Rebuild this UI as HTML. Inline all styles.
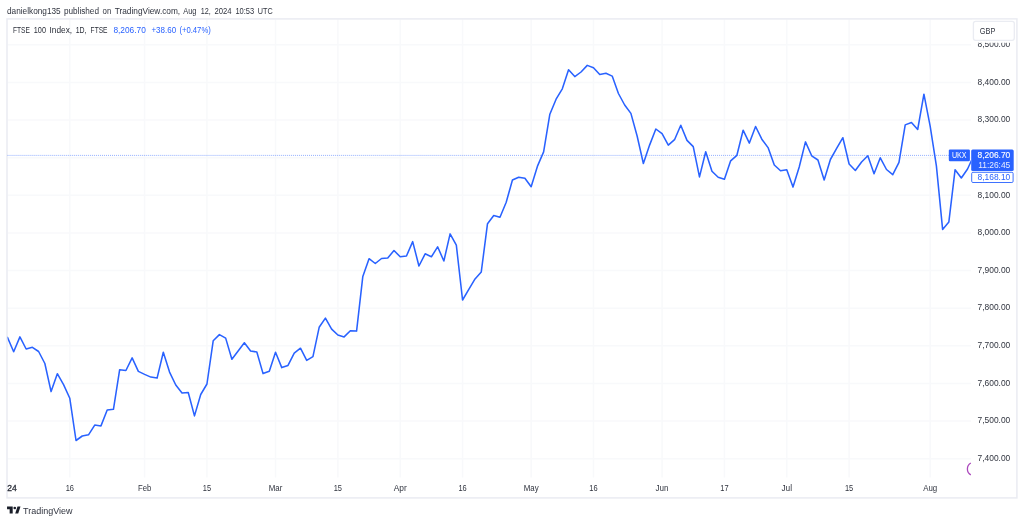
<!DOCTYPE html>
<html><head><meta charset="utf-8"><title>FTSE 100 Index</title>
<style>
html,body{margin:0;padding:0;background:#fff;}
body{width:1024px;height:523px;overflow:hidden;font-family:"Liberation Sans",sans-serif;}
svg{display:block;will-change:transform;}
text{font-family:"Liberation Sans",sans-serif;}
</style></head><body>
<svg width="1024" height="523" viewBox="0 0 1024 523">
<rect x="0" y="0" width="1024" height="523" fill="#ffffff"/>
<text x="7.00" y="13.6" font-size="8.4" fill="#30343f" textLength="53.70" lengthAdjust="spacingAndGlyphs">danielkong135</text>
<text x="63.90" y="13.6" font-size="8.4" fill="#30343f" textLength="35.10" lengthAdjust="spacingAndGlyphs">published</text>
<text x="102.60" y="13.6" font-size="8.4" fill="#30343f" textLength="8.70" lengthAdjust="spacingAndGlyphs">on</text>
<text x="114.70" y="13.6" font-size="8.4" fill="#30343f" textLength="65.50" lengthAdjust="spacingAndGlyphs">TradingView.com,</text>
<text x="183.20" y="13.6" font-size="8.4" fill="#30343f" textLength="13.20" lengthAdjust="spacingAndGlyphs">Aug</text>
<text x="200.70" y="13.6" font-size="8.4" fill="#30343f" textLength="10.10" lengthAdjust="spacingAndGlyphs">12,</text>
<text x="214.50" y="13.6" font-size="8.4" fill="#30343f" textLength="17.10" lengthAdjust="spacingAndGlyphs">2024</text>
<text x="235.40" y="13.6" font-size="8.4" fill="#30343f" textLength="18.80" lengthAdjust="spacingAndGlyphs">10:53</text>
<text x="257.80" y="13.6" font-size="8.4" fill="#30343f" textLength="14.90" lengthAdjust="spacingAndGlyphs">UTC</text>
<g stroke="#f8f9fb" stroke-width="1.5">
<line x1="7.5" y1="458.70" x2="971" y2="458.70"/>
<line x1="7.5" y1="421.07" x2="971" y2="421.07"/>
<line x1="7.5" y1="383.44" x2="971" y2="383.44"/>
<line x1="7.5" y1="345.81" x2="971" y2="345.81"/>
<line x1="7.5" y1="308.18" x2="971" y2="308.18"/>
<line x1="7.5" y1="270.55" x2="971" y2="270.55"/>
<line x1="7.5" y1="232.92" x2="971" y2="232.92"/>
<line x1="7.5" y1="195.29" x2="971" y2="195.29"/>
<line x1="7.5" y1="157.66" x2="971" y2="157.66"/>
<line x1="7.5" y1="120.03" x2="971" y2="120.03"/>
<line x1="7.5" y1="82.40" x2="971" y2="82.40"/>
<line x1="7.5" y1="44.77" x2="971" y2="44.77"/>
<line x1="69.80" y1="19.5" x2="69.80" y2="477.5"/>
<line x1="144.61" y1="19.5" x2="144.61" y2="477.5"/>
<line x1="206.95" y1="19.5" x2="206.95" y2="477.5"/>
<line x1="275.53" y1="19.5" x2="275.53" y2="477.5"/>
<line x1="337.88" y1="19.5" x2="337.88" y2="477.5"/>
<line x1="400.22" y1="19.5" x2="400.22" y2="477.5"/>
<line x1="462.57" y1="19.5" x2="462.57" y2="477.5"/>
<line x1="531.15" y1="19.5" x2="531.15" y2="477.5"/>
<line x1="593.49" y1="19.5" x2="593.49" y2="477.5"/>
<line x1="662.07" y1="19.5" x2="662.07" y2="477.5"/>
<line x1="724.42" y1="19.5" x2="724.42" y2="477.5"/>
<line x1="786.76" y1="19.5" x2="786.76" y2="477.5"/>
<line x1="849.11" y1="19.5" x2="849.11" y2="477.5"/>
<line x1="930.16" y1="19.5" x2="930.16" y2="477.5"/>
</g>
<rect x="7" y="18.9" width="1009.9" height="479" fill="none" stroke="#eaecf2" stroke-width="1.5"/>
<line x1="7.5" y1="155.4" x2="949" y2="155.4" stroke="#2962ff" stroke-width="1" stroke-dasharray="1 1.01" opacity="0.5"/>
<defs><clipPath id="pane"><rect x="7.5" y="19.5" width="963.5" height="458"/></clipPath></defs>
<polyline clip-path="url(#pane)" points="7.45,337.4 13.68,351.8 19.92,336.9 26.15,349.0 32.39,347.3 38.62,351.5 44.86,363.5 51.09,391.6 57.33,373.7 63.56,384.6 69.80,398.3 76.03,440.5 82.26,436.0 88.50,434.8 94.73,425.1 100.97,425.9 107.20,410.0 113.44,409.3 119.67,369.7 125.91,370.5 132.14,357.9 138.37,371.4 144.61,374.4 150.84,377.1 157.08,378.1 163.31,352.2 169.55,372.1 175.78,385.0 182.02,393.0 188.25,392.5 194.48,415.9 200.72,394.5 206.95,384.0 213.19,340.8 219.42,334.6 225.66,338.1 231.89,359.2 238.13,351.0 244.36,342.7 250.60,351.0 256.83,352.0 263.06,373.6 269.30,371.3 275.53,352.2 281.77,367.6 288.00,365.4 294.24,353.2 300.47,348.2 306.71,360.4 312.94,356.7 319.17,327.3 325.41,318.1 331.64,329.1 337.88,335.0 344.11,336.9 350.35,330.8 356.58,331.1 362.82,276.4 369.05,258.7 375.29,263.5 381.52,258.5 387.75,258.0 393.99,250.5 400.22,256.8 406.46,256.0 412.69,241.6 418.93,266.0 425.16,253.8 431.40,256.8 437.63,246.8 443.86,261.0 450.10,233.9 456.33,245.2 462.57,300.0 468.80,289.3 475.04,278.9 481.27,271.9 487.51,223.7 493.74,215.5 499.98,217.3 506.21,202.3 512.44,180.0 518.68,177.2 524.91,178.3 531.15,186.7 537.38,166.4 543.62,151.9 549.85,114.2 556.09,99.2 562.32,88.8 568.56,69.8 574.79,76.6 581.02,72.0 587.26,65.4 593.49,67.8 599.73,74.5 605.96,73.3 612.20,76.1 618.43,93.5 624.67,105.0 630.90,113.4 637.13,136.0 643.37,163.5 649.60,145.1 655.84,129.0 662.07,133.7 668.31,145.1 674.54,139.7 680.78,125.2 687.01,140.4 693.25,146.6 699.48,176.9 705.71,151.8 711.95,171.2 718.18,177.2 724.42,179.2 730.65,160.8 736.89,155.3 743.12,130.2 749.36,143.1 755.59,126.5 761.82,139.2 768.06,147.6 774.29,165.0 780.53,170.7 786.76,169.7 793.00,187.1 799.23,167.0 805.47,141.9 811.70,155.8 817.94,160.0 824.17,179.9 830.40,159.5 836.64,148.4 842.87,137.7 849.11,164.0 855.34,170.5 861.58,162.0 867.81,155.7 874.05,173.7 880.28,157.8 886.51,169.5 892.75,174.7 898.98,162.3 905.22,124.9 911.45,122.5 917.69,129.5 923.92,94.2 930.16,126.1 936.39,165.9 942.62,229.4 948.86,221.9 955.09,169.7 961.33,178.0 967.56,169.0 973.80,155.4" fill="none" stroke="#2962ff" stroke-width="1.55" stroke-linejoin="round" stroke-linecap="round"/>
<text x="13.00" y="32.7" font-size="8.8" fill="#2a2e39" textLength="16.90" lengthAdjust="spacingAndGlyphs">FTSE</text>
<text x="33.80" y="32.7" font-size="8.8" fill="#2a2e39" textLength="12.20" lengthAdjust="spacingAndGlyphs">100</text>
<text x="49.50" y="32.7" font-size="8.8" fill="#2a2e39" textLength="22.60" lengthAdjust="spacingAndGlyphs">Index,</text>
<text x="75.70" y="32.7" font-size="8.8" fill="#2a2e39" textLength="10.80" lengthAdjust="spacingAndGlyphs">1D,</text>
<text x="90.60" y="32.7" font-size="8.8" fill="#2a2e39" textLength="16.90" lengthAdjust="spacingAndGlyphs">FTSE</text>
<text x="113.40" y="32.7" font-size="8.8" fill="#2962ff" textLength="32.40" lengthAdjust="spacingAndGlyphs">8,206.70</text>
<text x="151.40" y="32.7" font-size="8.8" fill="#2962ff" textLength="24.70" lengthAdjust="spacingAndGlyphs">+38.60</text>
<text x="179.40" y="32.7" font-size="8.8" fill="#2962ff" textLength="31.40" lengthAdjust="spacingAndGlyphs">(+0.47%)</text>
<text x="977.6" y="460.95" font-size="8.5" fill="#30343f" textLength="32.7" lengthAdjust="spacingAndGlyphs">7,400.00</text>
<text x="977.6" y="423.32" font-size="8.5" fill="#30343f" textLength="32.7" lengthAdjust="spacingAndGlyphs">7,500.00</text>
<text x="977.6" y="385.69" font-size="8.5" fill="#30343f" textLength="32.7" lengthAdjust="spacingAndGlyphs">7,600.00</text>
<text x="977.6" y="348.06" font-size="8.5" fill="#30343f" textLength="32.7" lengthAdjust="spacingAndGlyphs">7,700.00</text>
<text x="977.6" y="310.43" font-size="8.5" fill="#30343f" textLength="32.7" lengthAdjust="spacingAndGlyphs">7,800.00</text>
<text x="977.6" y="272.80" font-size="8.5" fill="#30343f" textLength="32.7" lengthAdjust="spacingAndGlyphs">7,900.00</text>
<text x="977.6" y="235.17" font-size="8.5" fill="#30343f" textLength="32.7" lengthAdjust="spacingAndGlyphs">8,000.00</text>
<text x="977.6" y="197.54" font-size="8.5" fill="#30343f" textLength="32.7" lengthAdjust="spacingAndGlyphs">8,100.00</text>
<text x="977.6" y="122.28" font-size="8.5" fill="#30343f" textLength="32.7" lengthAdjust="spacingAndGlyphs">8,300.00</text>
<text x="977.6" y="84.65" font-size="8.5" fill="#30343f" textLength="32.7" lengthAdjust="spacingAndGlyphs">8,400.00</text>
<text x="977.6" y="47.02" font-size="8.5" fill="#30343f" textLength="32.7" lengthAdjust="spacingAndGlyphs">8,500.00</text>
<rect x="971.8" y="19.8" width="44.2" height="23.0" fill="#ffffff"/>
<rect x="973.4" y="21.3" width="40.9" height="19" rx="2.2" ry="2.2" fill="#ffffff" stroke="#eaecf2" stroke-width="1.3"/>
<text x="979.8" y="33.7" font-size="8.4" fill="#30343f" textLength="15.5" lengthAdjust="spacingAndGlyphs">GBP</text>
<rect x="948.8" y="149.5" width="21.1" height="11.7" rx="1.2" fill="#2962ff"/>
<text x="951.9" y="158.3" font-size="8.5" fill="#ffffff" textLength="14.6" lengthAdjust="spacingAndGlyphs">UKX</text>
<rect x="971.2" y="149.5" width="42.5" height="21.6" rx="1.5" fill="#2962ff"/>
<text x="977.5" y="158.3" font-size="8.5" fill="#ffffff" stroke="#ffffff" stroke-width="0.12" textLength="32.8" lengthAdjust="spacingAndGlyphs">8,206.70</text>
<text x="978.2" y="167.6" font-size="8.5" fill="#ffffff" opacity="0.88" textLength="32.1" lengthAdjust="spacingAndGlyphs">11:26:45</text>
<rect x="971.7" y="172.3" width="41.4" height="10.2" rx="1.2" fill="#ffffff" stroke="#2962ff" stroke-width="0.9"/>
<text x="977.5" y="179.5" font-size="8.5" fill="#2962ff" textLength="32.8" lengthAdjust="spacingAndGlyphs">8,168.10</text>
<text x="7.3" y="491.1" font-size="8.9" fill="#2a2e39" stroke="#2a2e39" stroke-width="0.3" textLength="9.5" lengthAdjust="spacingAndGlyphs">24</text>
<text x="65.64" y="491.1" font-size="8.7" fill="#30343f" textLength="8.3" lengthAdjust="spacingAndGlyphs">16</text>
<text x="137.96" y="491.1" font-size="8.7" fill="#30343f" textLength="13.3" lengthAdjust="spacingAndGlyphs">Feb</text>
<text x="202.80" y="491.1" font-size="8.7" fill="#30343f" textLength="8.3" lengthAdjust="spacingAndGlyphs">15</text>
<text x="268.73" y="491.1" font-size="8.7" fill="#30343f" textLength="13.6" lengthAdjust="spacingAndGlyphs">Mar</text>
<text x="333.73" y="491.1" font-size="8.7" fill="#30343f" textLength="8.3" lengthAdjust="spacingAndGlyphs">15</text>
<text x="393.72" y="491.1" font-size="8.7" fill="#30343f" textLength="13.0" lengthAdjust="spacingAndGlyphs">Apr</text>
<text x="458.42" y="491.1" font-size="8.7" fill="#30343f" textLength="8.3" lengthAdjust="spacingAndGlyphs">16</text>
<text x="523.65" y="491.1" font-size="8.7" fill="#30343f" textLength="15.0" lengthAdjust="spacingAndGlyphs">May</text>
<text x="589.34" y="491.1" font-size="8.7" fill="#30343f" textLength="8.3" lengthAdjust="spacingAndGlyphs">16</text>
<text x="655.57" y="491.1" font-size="8.7" fill="#30343f" textLength="13.0" lengthAdjust="spacingAndGlyphs">Jun</text>
<text x="720.27" y="491.1" font-size="8.7" fill="#30343f" textLength="8.3" lengthAdjust="spacingAndGlyphs">17</text>
<text x="781.46" y="491.1" font-size="8.7" fill="#30343f" textLength="10.6" lengthAdjust="spacingAndGlyphs">Jul</text>
<text x="844.96" y="491.1" font-size="8.7" fill="#30343f" textLength="8.3" lengthAdjust="spacingAndGlyphs">15</text>
<text x="923.16" y="491.1" font-size="8.7" fill="#30343f" textLength="14.0" lengthAdjust="spacingAndGlyphs">Aug</text>
<path d="M970.8 463.0 A 6.9 6.9 0 0 0 970.8 474.9" fill="none" stroke="#ab47bc" stroke-width="1.3"/>
<g fill="#1a1e29"><path d="M7.05 506.6 H12.7 V513.5 H9.65 V509.3 H7.05 Z"/><circle cx="14.75" cy="508.0" r="1.3"/><path d="M17.5 506.6 H20.5 L18.2 513.5 H15.2 Z"/></g>
<text x="23.1" y="513.8" font-size="9.0" fill="#30343f" textLength="49.4" lengthAdjust="spacingAndGlyphs">TradingView</text>
</svg>
</body></html>
